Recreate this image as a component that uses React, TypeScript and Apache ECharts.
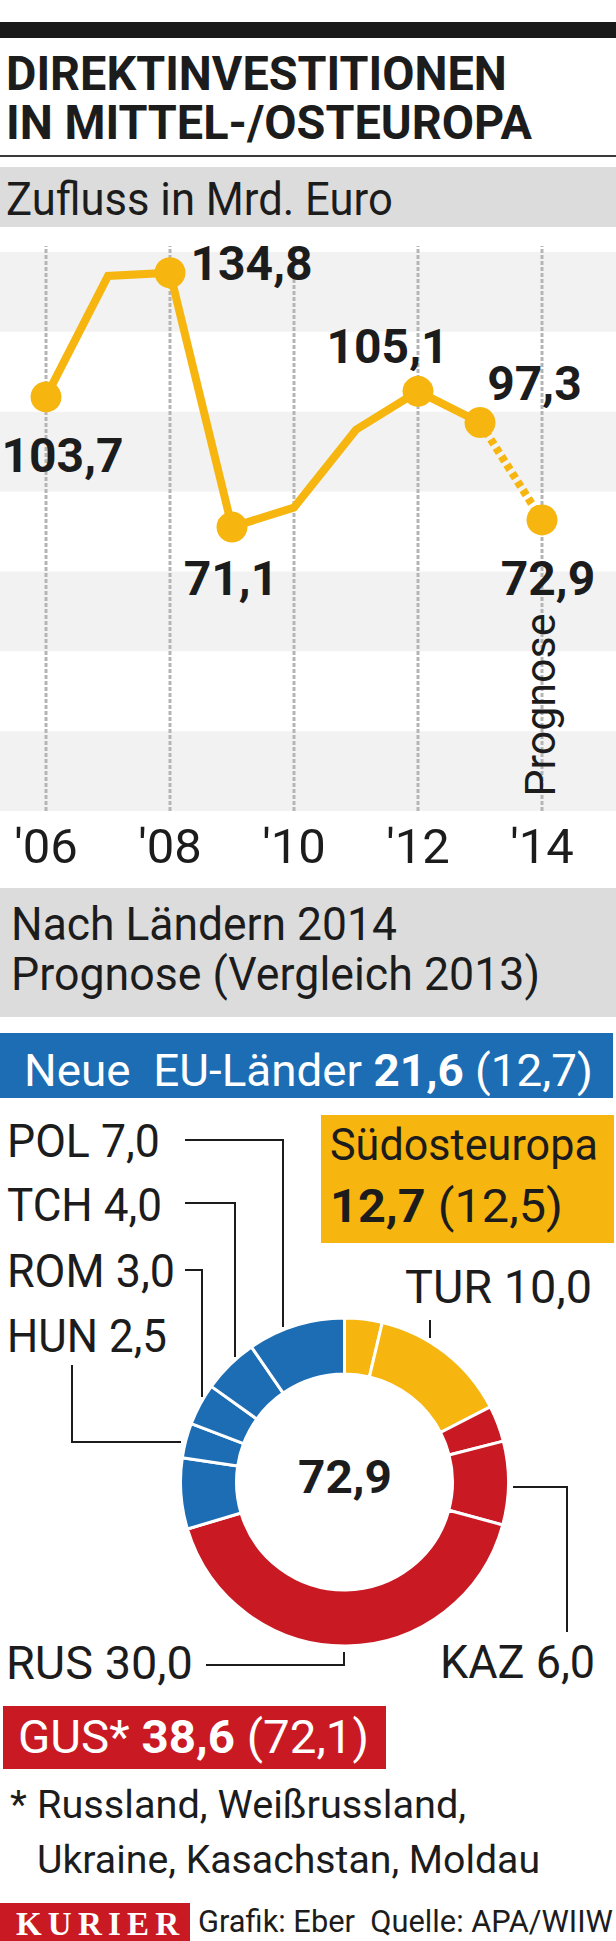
import React, { useEffect, useRef } from "react";
import * as echarts from "echarts";

// ---------------- data ----------------
const years = [2006, 2007, 2008, 2009, 2010, 2011, 2012, 2013];
const inflow = [103.7, 134.0, 134.8, 71.1, 76.0, 95.5, 105.1, 97.3];
const forecastYears = [2013, 2014];
const forecastInflow = [97.3, 72.9];
const markedYears = [2006, 2008, 2009, 2012, 2013, 2014];
const tickYears = [2006, 2008, 2010, 2012, 2014];
const yMin = 0;
const yMax = 140;
const yStep = 20;

const sliceNames = ["Übriges Südosteuropa", "TUR", "Übrige GUS", "KAZ", "RUS", "Übrige EU", "HUN", "ROM", "TCH", "POL"];
const sliceValues = [2.7, 10.0, 2.6, 6.0, 30.0, 5.1, 2.5, 3.0, 4.0, 7.0];
const sliceGroups = ["SOE", "SOE", "GUS", "GUS", "GUS", "EU", "EU", "EU", "EU", "EU"];
const groupKeys = ["EU", "SOE", "GUS"];
const groupLabels = ["Neue  EU-Länder", "Südosteuropa", "GUS*"];
const groupValues2013 = [12.7, 12.5, 72.1];
const footnoteLines = ["Russland, Weißrussland,", "Ukraine, Kasachstan, Moldau"];

// ---------------- layout / style ----------------
const W = 616;
const H = 1941;
const FONT = "Roboto";
const SERIF = "'Liberation Serif', 'DejaVu Serif', serif";
const CENTRAL = 0.34; // central baseline offset (em) above alphabetic baseline
const YELLOW = "#f6b50f";
const BLUE = "#1d6db4";
const RED = "#c91a24";
const INK = "#1c1c1c";
const BAND = "#f2f2f2";
const HEAD_GRAY = "#dcdcdc";
const GRIDLINE = "#b5b5b5";
const GROUP_COLORS: Record<string, string> = { EU: BLUE, SOE: YELLOW, GUS: RED };

const GRID_TOP = 252;
const GRID_BOTTOM = 811;
const X0PX = 46;
const PX_PER_YEAR = 62;
const XMIN = 2006 - X0PX / PX_PER_YEAR;
const XMAX = XMIN + W / PX_PER_YEAR;

const LABEL_OFFSETS: Record<number, [number, number]> = {
  2006: [16.5, 58.8],
  2008: [81.5, -9.1],
  2009: [-1, 51.6],
  2012: [-30.5, -44.6],
  2013: [54.5, -38.8],
  2014: [6, 58.8],
};

const SLICE_LABELS: Record<string, { x: number; bl: number; w: number; line: number[][] }> = {
  POL: { x: 7, bl: 1157, w: 153, line: [[185, 1140], [283, 1140], [283, 1327]] },
  TCH: { x: 7, bl: 1221, w: 155, line: [[185, 1203], [235, 1203], [235, 1357]] },
  ROM: { x: 7, bl: 1287, w: 168, line: [[185, 1270], [202, 1270], [202, 1397]] },
  HUN: { x: 7, bl: 1352, w: 160, line: [[72, 1365], [72, 1442], [181, 1442]] },
  TUR: { x: 405, bl: 1302, w: 187, line: [[430, 1320], [430, 1338]] },
  KAZ: { x: 440, bl: 1678, w: 155, line: [[513, 1487], [567, 1487], [567, 1632]] },
  RUS: { x: 6, bl: 1678, w: 187, line: [[344, 1652], [344, 1665], [206, 1665]] },
};

const fmt = (v: number) => v.toFixed(1).replace(".", ",");

let ctx: CanvasRenderingContext2D | null = null;
function measure(text: string, size: number, weight: string, family: string) {
  if (!ctx) ctx = document.createElement("canvas").getContext("2d");
  if (!ctx) return text.length * size * 0.5;
  ctx.font = `${weight} ${size}px ${family}`;
  return ctx.measureText(text).width;
}

type Seg = { t: string; b?: boolean };
function textRun(
  segs: Seg[], x: number, baseline: number, size: number, targetW: number | null,
  fill: string, family = FONT, central = CENTRAL
) {
  const widths = segs.map((s) => measure(s.t, size, s.b ? "bold" : "normal", family));
  const total = widths.reduce((a, b) => a + b, 0);
  const sx = targetW ? targetW / total : 1;
  const out: any[] = [];
  let start = x;
  segs.forEach((s, i) => {
    const weight = s.b ? "bold" : "normal";
    const re = /\S+(?: \S+)*/g;
    let m: RegExpExecArray | null;
    while ((m = re.exec(s.t))) {
      const off = m.index > 0 ? measure(s.t.slice(0, m.index), size, weight, family) : 0;
      out.push({
        type: "text",
        x: start + off * sx,
        y: baseline - central * size,
        scaleX: sx,
        silent: true,
        z: 10,
        style: {
          text: m[0], fontSize: size, fontWeight: weight, fontFamily: family,
          fill, align: "left", verticalAlign: "middle",
        },
      });
    }
    start += widths[i] * sx;
  });
  return out;
}

function groupTotal(key: string) {
  return sliceValues.reduce((a, v, i) => (sliceGroups[i] === key ? a + v : a), 0);
}

function buildGraphics() {
  const g: any[] = [];
  const rect = (x: number, y: number, w: number, h: number, fill: string) =>
    g.push({ type: "rect", silent: true, z: 0, shape: { x, y, width: w, height: h }, style: { fill } });

  // header
  rect(0, 22, W, 16, "#1a1a1a");
  g.push(...textRun([{ t: "DIREKTINVESTITIONEN", b: true }], 6, 90, 49, 501, INK));
  g.push(...textRun([{ t: "IN MITTEL-/OSTEUROPA", b: true }], 6, 139, 49, 526, INK));
  rect(0, 155, W, 2, "#3a3a3a");
  rect(0, 167, W, 60, HEAD_GRAY);
  g.push(...textRun([{ t: "Zufluss in Mrd. Euro" }], 6, 215, 46, 387, INK));

  // forecast note
  g.push({
    type: "text", x: 539.5, y: 705, rotation: Math.PI / 2, silent: true, z: 10,
    style: { text: "Prognose", fontSize: 43, fontFamily: FONT, fill: INK, align: "center", verticalAlign: "middle" },
  });

  // section 2 header
  rect(0, 888, W, 129, HEAD_GRAY);
  g.push(...textRun([{ t: "Nach Ländern 2014" }], 11, 940, 46, 386, INK));
  g.push(...textRun([{ t: "Prognose (Vergleich 2013)" }], 11, 990, 46, 529, INK));

  // group boxes
  const iEU = groupKeys.indexOf("EU");
  rect(0, 1033, 613, 65, BLUE);
  g.push(...textRun(
    [{ t: groupLabels[iEU] + " " }, { t: fmt(groupTotal("EU")), b: true }, { t: ` (${fmt(groupValues2013[iEU])})` }],
    24, 1086, 45, 569, "#ffffff"));

  const iSOE = groupKeys.indexOf("SOE");
  rect(321, 1115, 293, 128, YELLOW);
  g.push(...textRun([{ t: groupLabels[iSOE] }], 330, 1160, 45, 268, INK));
  g.push(...textRun(
    [{ t: fmt(groupTotal("SOE")), b: true }, { t: ` (${fmt(groupValues2013[iSOE])})` }],
    330, 1222, 46, 233, INK));

  const iGUS = groupKeys.indexOf("GUS");
  rect(3, 1706, 383, 63, RED);
  g.push(...textRun(
    [{ t: groupLabels[iGUS] + " " }, { t: fmt(groupTotal("GUS")), b: true }, { t: ` (${fmt(groupValues2013[iGUS])})` }],
    18, 1753, 46, 351, "#ffffff"));

  // slice labels + leader lines
  sliceNames.forEach((name, i) => {
    const L = SLICE_LABELS[name];
    if (!L) return;
    g.push(...textRun([{ t: `${name} ${fmt(sliceValues[i])}` }], L.x, L.bl, 47, L.w, INK));
    g.push({
      type: "polyline", silent: true, z: 5,
      shape: { points: L.line },
      style: { stroke: INK, lineWidth: 2, fill: null },
    });
  });

  // donut centre total
  const total = sliceValues.reduce((a, b) => a + b, 0);
  g.push(...textRun([{ t: fmt(total), b: true }], 298, 1493, 47, 94, INK));

  // footnote
  g.push(...textRun([{ t: "*" }], 10, 1818, 39, null, INK));
  g.push(...textRun([{ t: footnoteLines[0] }], 37, 1818, 39, 429, INK));
  g.push(...textRun([{ t: footnoteLines[1] }], 37, 1873, 39, 503, INK));

  // footer
  rect(0, 1903, 190, 38, RED);
  const KS = 33;
  const letters = "KURIER".split("");
  const lw = letters.map((c) => measure(c, KS, "bold", SERIF));
  const gap = (163 - lw.reduce((a, b) => a + b, 0)) / (letters.length - 1);
  let lx = 16;
  letters.forEach((c, i) => {
    g.push({
      type: "text", x: lx, y: 1935 - 0.3375 * KS, silent: true, z: 10,
      style: { text: c, fontSize: KS, fontWeight: "bold", fontFamily: SERIF, fill: "#ffffff", align: "left", verticalAlign: "middle" },
    });
    lx += lw[i] + gap;
  });
  g.push(...textRun([{ t: "Grafik: Eber " }, { t: " Quelle: APA/WIIW" }], 198, 1932, 32, 415, INK));
  return g;
}

function buildOption() {
  const labelStyle = {
    show: true, position: "inside", fontSize: 48, fontWeight: "bold", fontFamily: FONT,
    color: INK, align: "center", verticalAlign: "middle",
    formatter: (p: any) => fmt(p.value[1]),
  };
  const mainData = years.map((y, i) => {
    const marked = markedYears.includes(y);
    return {
      value: [y, inflow[i]],
      symbol: marked ? "circle" : "none",
      label: marked ? { show: true, offset: LABEL_OFFSETS[y] } : { show: false },
    };
  });
  const fcData = forecastYears.map((y, i) => {
    const marked = markedYears.includes(y) && !years.includes(y);
    return {
      value: [y, forecastInflow[i]],
      symbol: marked ? "circle" : "none",
      label: marked ? { show: true, offset: LABEL_OFFSETS[y] } : { show: false },
    };
  });

  // shaded bands every other y-interval (0-20, 40-60, ...)
  const bandStarts: number[] = [];
  for (let v = yMin; v < yMax; v += 2 * yStep) bandStarts.push(v);

  return {
    animation: false,
    textStyle: { fontFamily: FONT },
    grid: { left: 0, right: 0, top: GRID_TOP, height: GRID_BOTTOM - GRID_TOP, containLabel: false },
    xAxis: {
      type: "value", min: XMIN, max: XMAX,
      axisLine: { show: false }, axisTick: { show: false }, splitLine: { show: false },
      axisLabel: {
        customValues: tickYears,
        formatter: (v: number) => "'" + String(Math.round(v)).slice(2),
        fontSize: 49, fontFamily: FONT, color: INK, margin: 35, verticalAlign: "middle",
      },
    },
    yAxis: {
      type: "value", min: yMin, max: yMax, interval: yStep,
      axisLine: { show: false }, axisTick: { show: false }, axisLabel: { show: false },
      splitLine: { show: false }, splitArea: { show: false },
    },
    series: [
      {
        type: "custom", z: 0, silent: true, clip: false,
        data: bandStarts.map((v) => [XMIN, v]),
        renderItem: (_p: any, api: any) => {
          const v = api.value(1);
          const a = api.coord([XMIN, v]);
          const b = api.coord([XMAX, v + yStep]);
          return {
            type: "rect",
            shape: { x: a[0], y: b[1], width: b[0] - a[0], height: a[1] - b[1] },
            style: { fill: BAND },
          };
        },
      },
      {
        type: "custom", z: 1, silent: true, clip: false,
        data: tickYears.map((y) => [y, yMin]),
        renderItem: (_p: any, api: any) => {
          const x = api.value(0);
          const a = api.coord([x, yMin]);
          const b = api.coord([x, yMax]);
          return {
            type: "line",
            shape: { x1: a[0], y1: a[1], x2: b[0], y2: b[1] - 6 },
            style: { stroke: GRIDLINE, lineWidth: 3, lineDash: [4, 2], fill: null },
          };
        },
      },
      {
        type: "line", data: mainData, z: 4, silent: true, symbolSize: 31,
        lineStyle: { color: YELLOW, width: 8, join: "miter" },
        itemStyle: { color: YELLOW },
        label: labelStyle,
        emphasis: { disabled: true },
      },
      {
        type: "line", data: fcData, z: 4, silent: true, symbolSize: 31,
        lineStyle: { color: YELLOW, width: 8, type: [6, 4] },
        itemStyle: { color: YELLOW },
        label: labelStyle,
        emphasis: { disabled: true },
      },
      {
        type: "pie", center: [344.5, 1482], radius: [108, 164], startAngle: 90, clockwise: true,
        silent: true, avoidLabelOverlap: false,
        label: { show: false }, labelLine: { show: false },
        itemStyle: { borderColor: "#ffffff", borderWidth: 3 },
        emphasis: { disabled: true },
        data: sliceNames.map((n, i) => ({
          name: n, value: sliceValues[i], itemStyle: { color: GROUP_COLORS[sliceGroups[i]] },
        })),
      },
    ],
    graphic: { elements: buildGraphics() },
  };
}

export default function App() {
  const ref = useRef<HTMLDivElement>(null);
  useEffect(() => {
    if (!ref.current) return;
    const chart = echarts.init(ref.current, null, { renderer: "svg" });
    chart.setOption(buildOption() as any);
    return () => chart.dispose();
  }, []);
  return (
    <div
      ref={ref}
      style={{ position: "absolute", left: 0, top: 0, width: W, height: H, background: "#ffffff" }}
    />
  );
}
